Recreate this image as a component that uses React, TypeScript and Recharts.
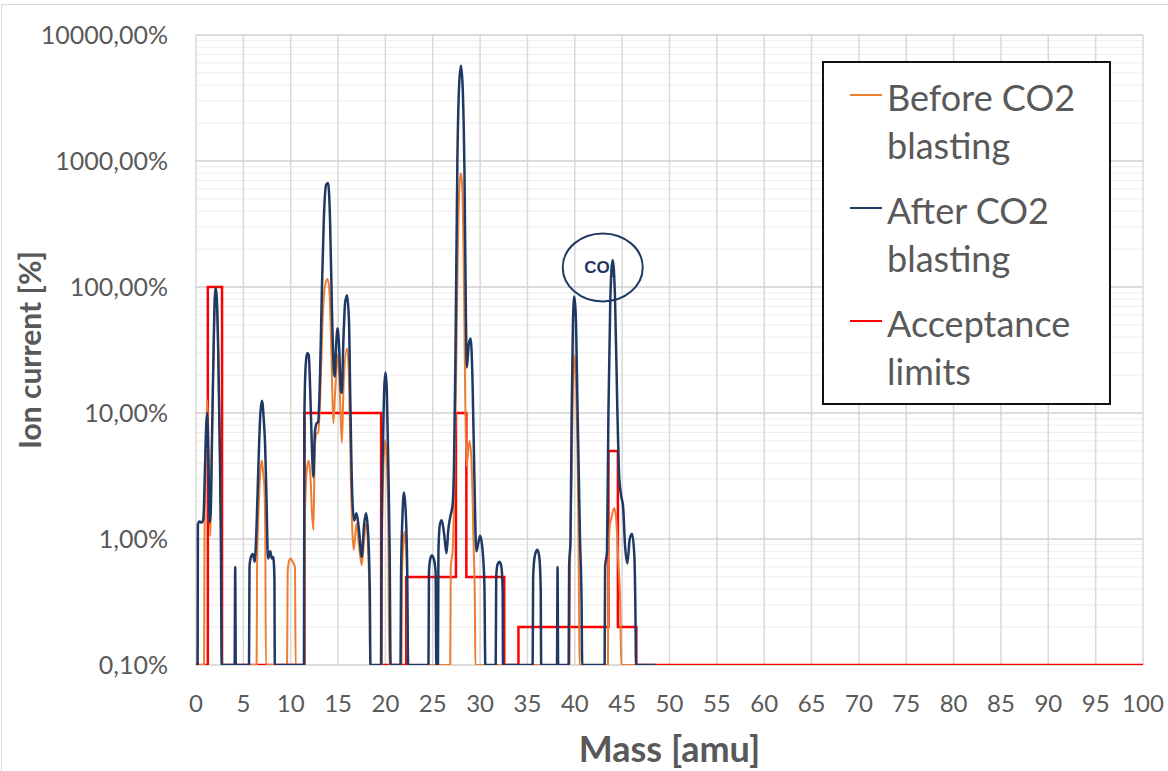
import React from 'react';
import {
  LineChart,
  Line,
  XAxis,
  YAxis,
  CartesianGrid,
  Legend,
  ReferenceDot,
} from 'recharts';

// Colour palette (Excel style)
const COLORS = {
  before: '#ED7D31',
  after: '#1F3864',
  limits: '#FF0000',
  text: '#595959',
  gridMajor: '#d0d0d0',
  gridMinor: '#ececec',
  gridVert: '#d9d9d9',
};

const FONT = 'Lato, "Open Sans", sans-serif';

// Mass [amu] vs ion current [%] (0.10% is the axis floor)
const BEFORE: [number, number][] = [
  [0, 0.1], [0.85, 0.1], [0.9, 1], [1.05, 6], [1.2, 12.7], [1.35, 4], [1.5, 1.05],
  [1.55, 1.6], [1.7, 7], [1.85, 30], [1.98, 80], [2.08, 99], [2.2, 80], [2.35, 30],
  [2.5, 6], [2.62, 1.2], [2.72, 0.1],
  [6.4, 0.1], [6.45, 0.6], [6.6, 1.6], [6.8, 3.5], [6.95, 4.2], [7.1, 3.3], [7.22, 2.6],
  [7.32, 1], [7.38, 0.1],
  [9.62, 0.1], [9.68, 0.55], [9.85, 0.68], [10.0, 0.7], [10.2, 0.66], [10.45, 0.6], [10.52, 0.1],
  [11.45, 0.1], [11.5, 1.5], [11.7, 3.5], [11.9, 4.2], [12.1, 3], [12.25, 1.6], [12.4, 1.18],
  [12.55, 5.5], [12.75, 6.9], [12.9, 7], [13.1, 12], [13.35, 50], [13.6, 100], [13.9, 116],
  [14.1, 90], [14.3, 30], [14.5, 8.3], [14.7, 15], [14.95, 29], [15.15, 18], [15.4, 5.8],
  [15.6, 18], [15.95, 32.6], [16.15, 20], [16.35, 3], [16.5, 1.2], [16.65, 0.82], [16.95, 1.33],
  [17.2, 0.9], [17.5, 0.62], [17.75, 1.0], [17.95, 1.33], [18.15, 0.9], [18.33, 0.3], [18.38, 0.1],
  [19.6, 0.1], [19.65, 1], [19.8, 4], [20.0, 6.1], [20.15, 4], [20.3, 1.5], [20.4, 0.1],
  [21.7, 0.1], [21.75, 0.5], [21.88, 0.9], [22.02, 1.14], [22.15, 0.9], [22.28, 0.5], [22.33, 0.1],
  [26.85, 0.1], [26.9, 0.6], [27.1, 0.8], [27.25, 2], [27.45, 15], [27.65, 200], [27.85, 700],
  [27.98, 800], [28.12, 600], [28.3, 100], [28.45, 10], [28.57, 3.8], [28.75, 5], [28.9, 6],
  [29.1, 4], [29.3, 1], [29.45, 0.3], [29.5, 0.1],
  [39.45, 0.1], [39.5, 0.6], [39.65, 3], [39.8, 15], [39.95, 29], [40.15, 15], [40.35, 2],
  [40.45, 0.3], [40.5, 0.1],
  [43.5, 0.1], [43.55, 0.6], [43.7, 1.3], [43.85, 1.45], [44.15, 1.76], [44.35, 1.5], [44.6, 0.65],
  [44.8, 0.3], [44.9, 0.1],
  [48.5, 0.1],
];

const AFTER: [number, number][] = [
  [0, 0.1], [0.17, 0.1], [0.2, 1.3], [0.35, 1.38], [0.6, 1.35], [0.78, 1.45], [0.92, 3],
  [1.05, 7], [1.18, 10], [1.3, 4.5], [1.45, 1.35], [1.55, 1.6], [1.7, 7], [1.85, 30], [1.98, 80],
  [2.08, 99], [2.2, 80], [2.35, 30], [2.5, 6], [2.62, 1.2], [2.72, 0.1],
  [4.08, 0.1], [4.14, 0.6], [4.2, 0.1],
  [5.6, 0.1], [5.65, 0.6], [5.8, 0.72], [6.0, 0.76], [6.2, 0.66], [6.4, 1.3], [6.6, 4], [6.8, 10],
  [6.97, 12.5], [7.15, 9], [7.3, 5.5], [7.45, 2], [7.6, 0.7], [7.85, 0.8], [8.0, 0.7], [8.15, 0.72],
  [8.28, 0.5], [8.32, 0.1],
  [11.4, 0.1], [11.45, 10], [11.6, 25], [11.75, 30], [11.9, 29], [12.1, 12], [12.25, 5], [12.4, 3.1],
  [12.55, 7], [12.75, 8.3], [12.9, 8.5], [13.1, 20], [13.3, 100], [13.5, 350], [13.75, 650],
  [13.95, 670], [14.15, 350], [14.35, 70], [14.55, 22], [14.65, 19.5], [14.8, 35], [14.95, 47],
  [15.1, 35], [15.3, 15], [15.4, 14.4], [15.55, 35], [15.75, 75], [15.95, 86], [16.15, 55],
  [16.3, 12], [16.5, 2.2], [16.7, 1.4], [16.95, 1.6], [17.2, 1.2], [17.5, 0.72], [17.75, 1.3],
  [17.95, 1.6], [18.15, 1.2], [18.35, 0.4], [18.42, 0.1],
  [19.55, 0.1], [19.6, 1], [19.75, 6], [19.9, 17], [20.02, 21], [20.15, 15], [20.3, 4], [20.45, 0.8],
  [20.55, 0.1],
  [21.6, 0.1], [21.65, 0.5], [21.8, 1.5], [21.97, 2.34], [22.15, 1.6], [22.3, 0.6], [22.4, 0.1],
  [24.55, 0.1], [24.6, 0.55], [24.75, 0.7], [24.9, 0.74], [25.1, 0.7], [25.3, 0.55], [25.38, 0.1],
  [25.55, 0.1], [25.6, 0.8], [25.75, 1.3], [25.95, 1.41], [26.2, 1.1], [26.45, 0.77], [26.65, 1.2],
  [26.85, 1.5], [27.1, 1.9], [27.25, 4], [27.4, 30], [27.6, 1000], [27.8, 4200], [27.98, 5700],
  [28.15, 4000], [28.35, 800], [28.5, 60], [28.6, 23], [28.8, 35], [29.0, 39], [29.2, 18], [29.4, 3],
  [29.6, 0.8], [29.8, 0.92], [30.0, 1.06], [30.2, 0.9], [30.45, 0.45], [30.55, 0.1],
  [31.65, 0.1], [31.7, 0.5], [31.85, 0.63], [32.05, 0.66], [32.25, 0.6], [32.38, 0.4], [32.42, 0.1],
  [35.55, 0.1], [35.6, 0.5], [35.8, 0.75], [36.05, 0.82], [36.25, 0.72], [36.4, 0.4], [36.45, 0.1],
  [38.12, 0.1], [38.18, 0.6], [38.24, 0.1],
  [39.35, 0.1], [39.4, 0.6], [39.55, 1], [39.67, 10], [39.8, 50], [39.95, 84], [40.1, 60], [40.3, 10],
  [40.55, 1], [40.72, 0.3], [40.78, 0.1],
  [43.15, 0.1], [43.2, 0.6], [43.4, 0.8], [43.55, 10], [43.75, 80], [44.0, 164], [44.25, 80],
  [44.5, 10], [44.7, 3], [44.9, 2.2], [45.1, 1.8], [45.3, 0.9], [45.55, 0.64], [45.8, 1.0],
  [46.05, 1.1], [46.3, 0.7], [46.42, 0.2], [46.46, 0.1],
  [48.5, 0.1],
];

// acceptance limits: value holds from this mass to the next one
const LIMITS: [number, number][] = [
  [0, 0.1], [1.25, 100], [2.75, 0.1], [11.45, 10], [19.55, 0.1], [22.2, 0.5], [27.45, 10],
  [28.55, 0.5], [32.55, 0.1], [34.05, 0.2], [43.55, 5], [44.55, 0.2], [46.5, 0.1], [100, 0.1],
];

const MASS_TICKS = [0, 5, 10, 15, 20, 25, 30, 35, 40, 45, 50, 55, 60, 65, 70, 75, 80, 85, 90, 95, 100];
const ION_TICKS = [0.1, 1, 10, 100, 1000, 10000];

const SERIES_NAMES = ['Before CO2 blasting', 'After CO2 blasting', 'Acceptance limits'];

// minor log gridlines 2..9 in every decade
const MINOR_ION: number[] = [];
ION_TICKS.slice(0, -1).forEach((d) => {
  for (let k = 2; k <= 9; k++) MINOR_ION.push(+(d * k).toPrecision(3));
});

const toPoints = (rows: [number, number][]) => rows.map(([mass, ion]) => ({ mass, ion }));

const formatPct = (v: number) => `${v.toFixed(2).replace('.', ',')}%`;

const LegendBox = () => {
  const entries = [
    { label: SERIES_NAMES[0], color: COLORS.before },
    { label: SERIES_NAMES[1], color: COLORS.after },
    { label: SERIES_NAMES[2], color: COLORS.limits },
  ];
  return (
    <div
      style={{
        position: 'relative',
        width: 289,
        height: 344,
        border: '2px solid #111',
        boxSizing: 'border-box',
        background: '#fff',
        fontFamily: FONT,
      }}
    >
      {entries.map((e, i) => (
        <div key={e.label} style={{ position: 'absolute', left: 0, top: 10 + i * 113 }}>
          <div
            style={{
              position: 'absolute',
              left: 26,
              top: 21,
              width: 32,
              height: 2,
              background: e.color,
            }}
          />
          <div
            style={{
              position: 'absolute',
              left: 63,
              top: 0,
              width: 222,
              color: COLORS.text,
              fontSize: 36,
              lineHeight: '48px',
              whiteSpace: 'pre',
            }}
          >
            {e.label.replace(/ blasting| limits/, (m) => '\n' + m.trim())}
          </div>
        </div>
      ))}
    </div>
  );
};

const YTitle = ({ viewBox }: any) => {
  const x = viewBox.x + 29;
  const y = viewBox.y + viewBox.height / 2;
  return (
    <text
      x={x}
      y={y}
      transform={`rotate(-90, ${x}, ${y})`}
      textAnchor="middle"
      dominantBaseline="central"
      fill={COLORS.text}
      fontFamily={FONT}
      fontWeight={700}
      fontSize={30}
    >
      Ion current [%]
    </text>
  );
};

const XTitle = ({ viewBox }: any) => (
  <text
    x={viewBox.x + viewBox.width / 2}
    y={viewBox.y + 83}
    textAnchor="middle"
    dominantBaseline="central"
    fill={COLORS.text}
    fontFamily={FONT}
    fontWeight={700}
    fontSize={36}
  >
    Mass [amu]
  </text>
);

const Co2Mark = ({ cx, cy }: any) => (
  <g>
    <ellipse cx={cx} cy={cy} rx={40} ry={34} fill="none" stroke={COLORS.after} strokeWidth={2} />
    <text
      x={cx - 3}
      y={cy + 6}
      textAnchor="middle"
      fill={COLORS.after}
      fontFamily="'Liberation Sans', Arial, sans-serif"
      fontWeight={700}
      fontSize={17}
    >
      CO
      <tspan fontSize={10} dy={4}>2</tspan>
    </text>
  </g>
);

export default function App() {
  return (
    <div
      style={{
        position: 'absolute',
        left: 0,
        top: 0,
        width: 1168,
        height: 771,
        background: '#fff',
        overflow: 'hidden',
        fontFamily: FONT,
      }}
    >
      <div
        style={{
          position: 'absolute',
          left: 1,
          top: 4,
          right: 0,
          bottom: 0,
          borderLeft: '1px solid #d9d9d9',
          borderTop: '1px solid #d9d9d9',
        }}
      />
      <LineChart width={1168} height={771} margin={{ top: 35, right: 25, bottom: 0, left: 0 }}>
        <CartesianGrid horizontalValues={MINOR_ION} vertical={false} stroke={COLORS.gridMinor} strokeWidth={1} />
        <CartesianGrid horizontal={false} verticalValues={MASS_TICKS} stroke={COLORS.gridVert} strokeWidth={1.5} />
        <CartesianGrid vertical={false} horizontalValues={ION_TICKS} stroke={COLORS.gridMajor} strokeWidth={1.5} />
        <XAxis
          dataKey="mass"
          type="number"
          domain={[0, 100]}
          ticks={MASS_TICKS}
          interval={0}
          height={106}
          tickSize={0}
          tickMargin={30}
          tickLine={false}
          axisLine={false}
          tick={{ fill: COLORS.text, fontSize: 24, fontFamily: FONT }}
          label={<XTitle />}
        />
        <YAxis
          dataKey="ion"
          scale="log"
          domain={[0.1, 10000]}
          allowDataOverflow
          ticks={ION_TICKS}
          interval={0}
          width={196}
          tickSize={0}
          tickMargin={28}
          tickLine={false}
          axisLine={false}
          tickFormatter={formatPct}
          tick={{ fill: COLORS.text, fontSize: 25, fontFamily: FONT }}
          label={<YTitle />}
        />
        <Legend
          layout="vertical"
          align="center"
          verticalAlign="middle"
          content={<LegendBox />}
          wrapperStyle={{ position: 'absolute', left: 822, top: 61, width: 289, height: 344 }}
        />
        <Line
          data={toPoints(LIMITS)}
          dataKey="ion"
          name={SERIES_NAMES[2]}
          type="stepAfter"
          stroke={COLORS.limits}
          strokeWidth={2.5}
          dot={false}
          activeDot={false}
          isAnimationActive={false}
        />
        <Line
          data={toPoints(BEFORE)}
          dataKey="ion"
          name={SERIES_NAMES[0]}
          type="monotone"
          stroke={COLORS.before}
          strokeWidth={2}
          dot={false}
          activeDot={false}
          isAnimationActive={false}
        />
        <Line
          data={toPoints(AFTER)}
          dataKey="ion"
          name={SERIES_NAMES[1]}
          type="monotone"
          stroke={COLORS.after}
          strokeWidth={2.5}
          dot={false}
          activeDot={false}
          isAnimationActive={false}
        />
        <ReferenceDot x={42.95} y={143} r={0} shape={<Co2Mark />} ifOverflow="visible" />
      </LineChart>
    </div>
  );
}
